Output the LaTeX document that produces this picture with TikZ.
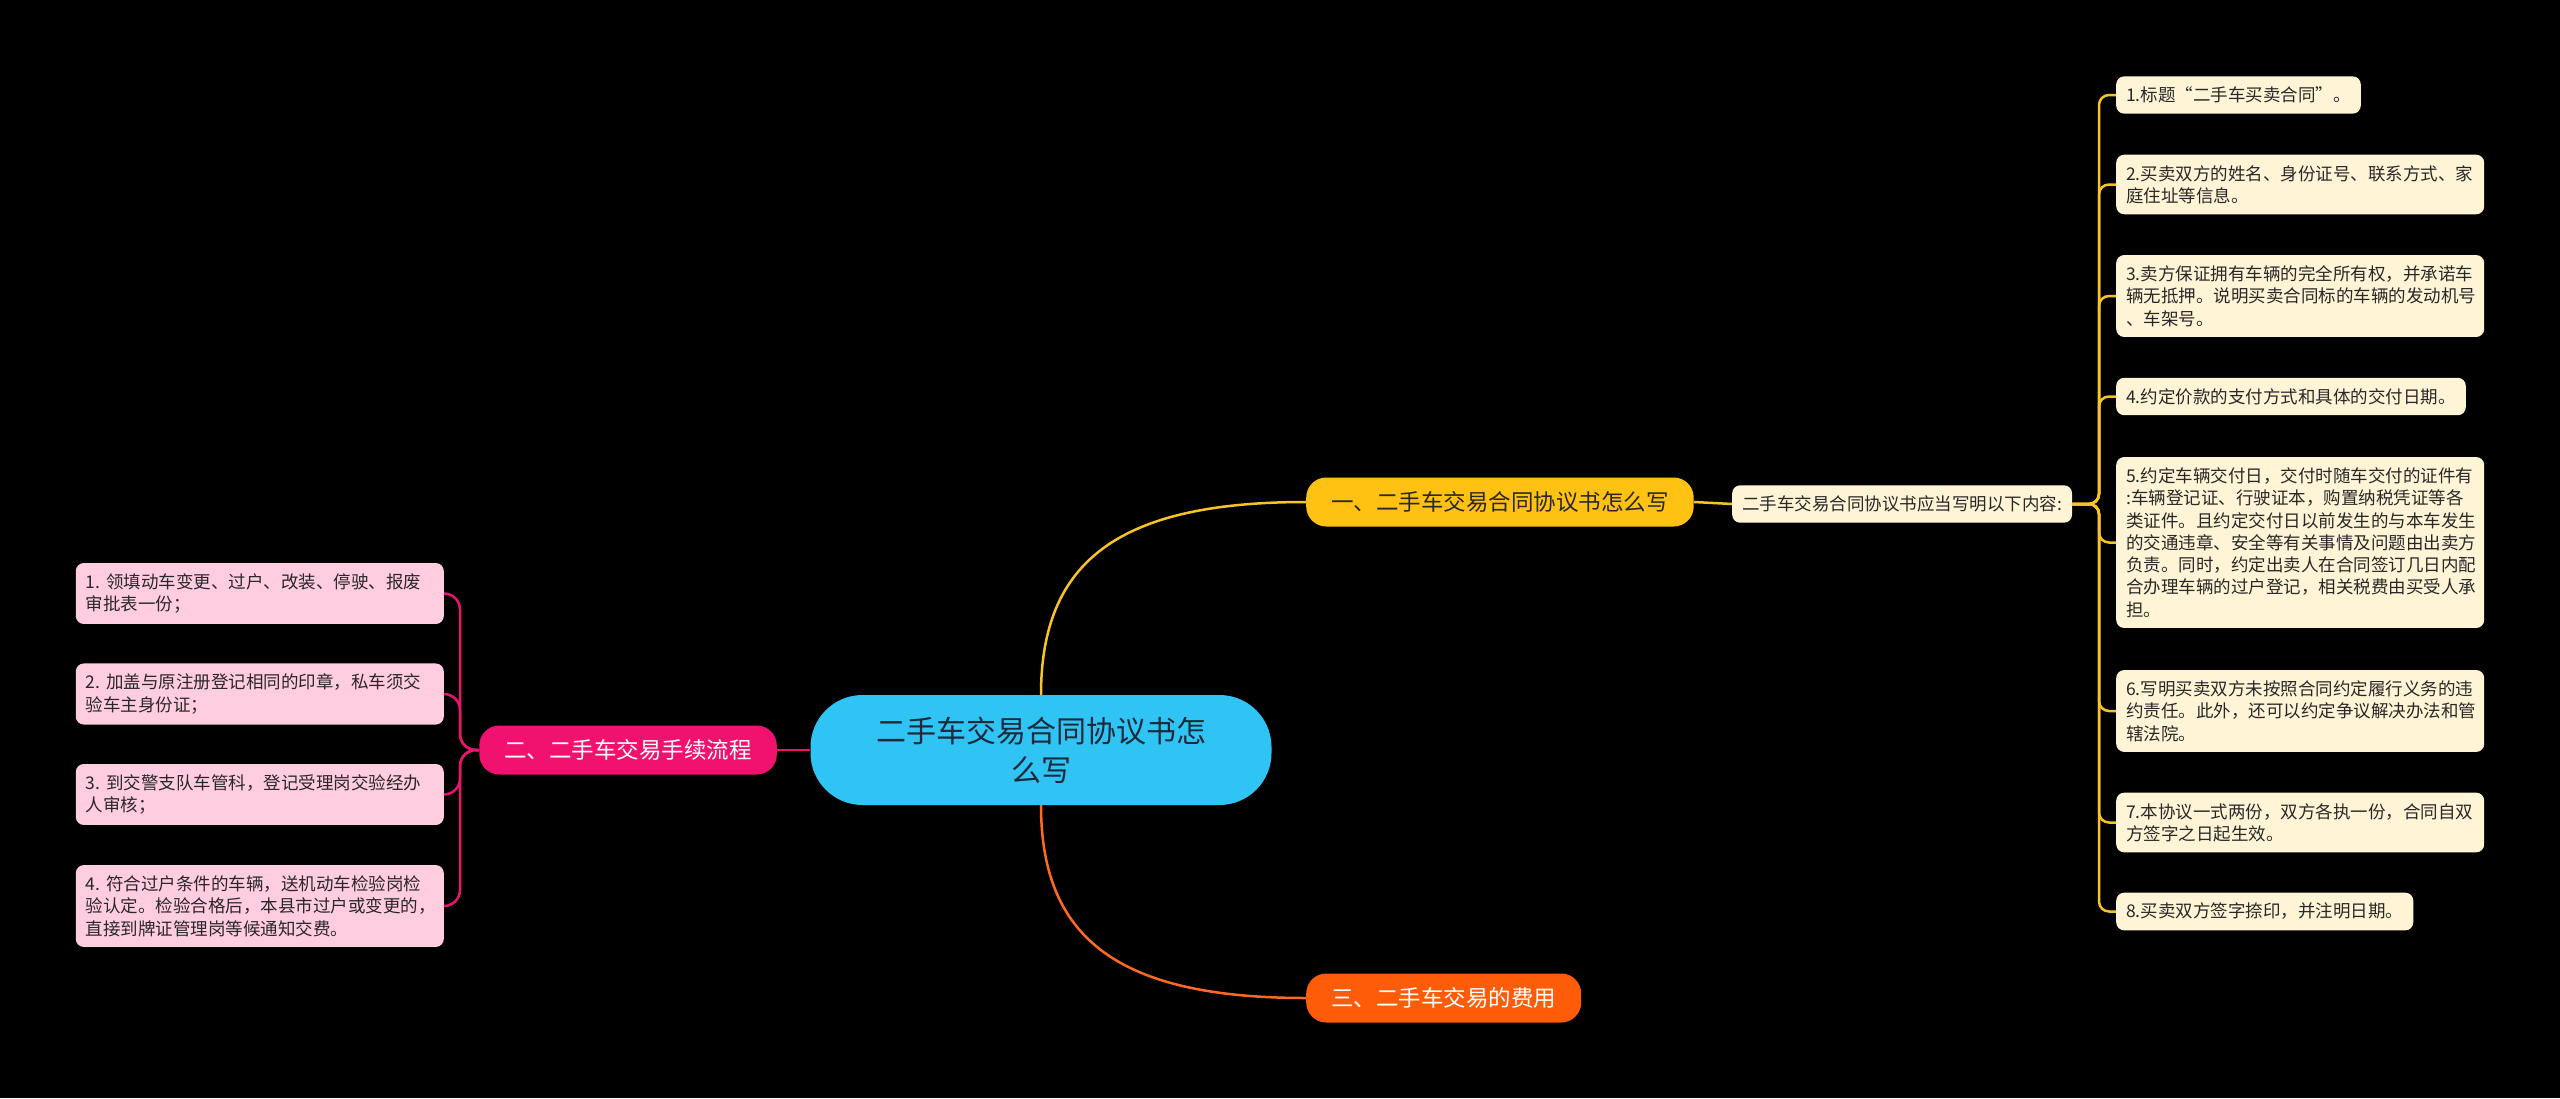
\documentclass[tikz,border=0pt]{standalone}
\usepackage{fontspec}
\setmainfont{Noto Sans CJK SC}
\frenchspacing
\definecolor{bgc}{RGB}{0,0,0}
\definecolor{cyanc}{RGB}{48,196,245}
\definecolor{yelc}{RGB}{255,193,18}
\definecolor{pinkc}{RGB}{240,18,110}
\definecolor{orac}{RGB}{255,92,10}
\definecolor{creamc}{RGB}{255,244,214}
\definecolor{lpinkc}{RGB}{255,204,224}
\definecolor{yline}{RGB}{247,196,40}
\definecolor{pline}{RGB}{232,20,110}
\definecolor{oline}{RGB}{255,106,30}
\definecolor{darktext}{RGB}{40,40,40}
\definecolor{centertext}{RGB}{26,42,58}
\tikzset{
  rootbox/.style={fill=cyanc, rounded corners=52pt, minimum width=461pt, minimum height=110pt,
    align=center, text=centertext, font=\fontsize{30}{39}\selectfont, inner sep=0pt},
  mainbox/.style={rounded corners=20pt, minimum height=49pt, inner xsep=25pt, inner ysep=0pt,
    font=\fontsize{22.5}{28}\selectfont},
  leafbox/.style={rounded corners=8pt, inner xsep=10pt, inner ysep=10.5pt, align=left,
    text=darktext, font=\fontsize{17.5}{22.3}\selectfont},
  rleaf/.style={leafbox, fill=creamc, anchor=west},
  lleaf/.style={leafbox, fill=lpinkc, anchor=east, text width=348pt},
  wide/.style={text width=348pt},
  conn/.style={line width=2.5pt},
}
\begin{document}
\begin{tikzpicture}[x=1pt,y=-1pt]
\fill[bgc] (0,0) rectangle (2560,1098);
\useasboundingbox (0,0) rectangle (2560,1098);

\node[rootbox] (root) at (1041,750) {二手车交易合同协议书怎\\么写};
\node[mainbox, fill=yelc, text=darktext, anchor=west] (b1) at (1306,502) {一、二手车交易合同协议书怎么写};
\node[mainbox, fill=pinkc, text=white, anchor=east] (b2) at (777,750) {二、二手车交易手续流程};
\node[mainbox, fill=orac, text=white, anchor=west] (b3) at (1306,998) {三、二手车交易的费用};

\node[leafbox, fill=creamc, anchor=west] (sub) at (1732,504) {二手车交易合同协议书应当写明以下内容:};

\node[rleaf] (r1) at (2116,95) {1.标题“二手车买卖合同”。};
\node[rleaf, wide] (r2) at (2116,184.5) {2.买卖双方的姓名、身份证号、联系方式、家\\庭住址等信息。};
\node[rleaf, wide] (r3) at (2116,296) {3.卖方保证拥有车辆的完全所有权，并承诺车\\辆无抵押。说明买卖合同标的车辆的发动机号\\、车架号。};
\node[rleaf] (r4) at (2116,396.5) {4.约定价款的支付方式和具体的交付日期。};
\node[rleaf, wide] (r5) at (2116,542.5) {5.约定车辆交付日，交付时随车交付的证件有\\:车辆登记证、行驶证本，购置纳税凭证等各\\类证件。且约定交付日以前发生的与本车发生\\的交通违章、安全等有关事情及问题由出卖方\\负责。同时，约定出卖人在合同签订几日内配\\合办理车辆的过户登记，相关税费由买受人承\\担。};
\node[rleaf, wide] (r6) at (2116,711) {6.写明买卖双方未按照合同约定履行义务的违\\约责任。此外，还可以约定争议解决办法和管\\辖法院。};
\node[rleaf, wide] (r7) at (2116,822.5) {7.本协议一式两份，双方各执一份，合同自双\\方签字之日起生效。};
\node[rleaf] (r8) at (2116,911.5) {8.买卖双方签字捺印，并注明日期。};

\node[lleaf] (l1) at (444,593.5) {1. 领填动车变更、过户、改装、停驶、报废\\审批表一份；};
\node[lleaf] (l2) at (444,694) {2. 加盖与原注册登记相同的印章，私车须交\\验车主身份证；};
\node[lleaf] (l3) at (444,794.5) {3. 到交警支队车管科，登记受理岗交验经办\\人审核；};
\node[lleaf] (l4) at (444,906) {4. 符合过户条件的车辆，送机动车检验岗检\\验认定。检验合格后，本县市过户或变更的，\\直接到牌证管理岗等候通知交费。};

% main connectors
\draw[conn, yline] (root.north) .. controls (1041,560) and (1120,502) .. (b1.west);
\draw[conn, oline] (root.south) .. controls (1041,940) and (1120,998) .. (b3.west);
\draw[conn, pline] (root.west) -- (b2.east);
\draw[conn, yline] (b1.east) -- (sub.west);

% right bracket
\coordinate (rj) at (2099,504);
\foreach \n in {r1,r2,r3,r4,r5,r6,r7,r8}
  \draw[conn, yline, rounded corners=10pt] (sub.east) -- (rj) |- (\n.west);

% left bracket
\coordinate (lj) at (460,750);
\foreach \n in {l1,l2,l3,l4}
  \draw[conn, pline, rounded corners=16pt] (b2.west) -- (lj) |- (\n.east);
\end{tikzpicture}
\end{document}
